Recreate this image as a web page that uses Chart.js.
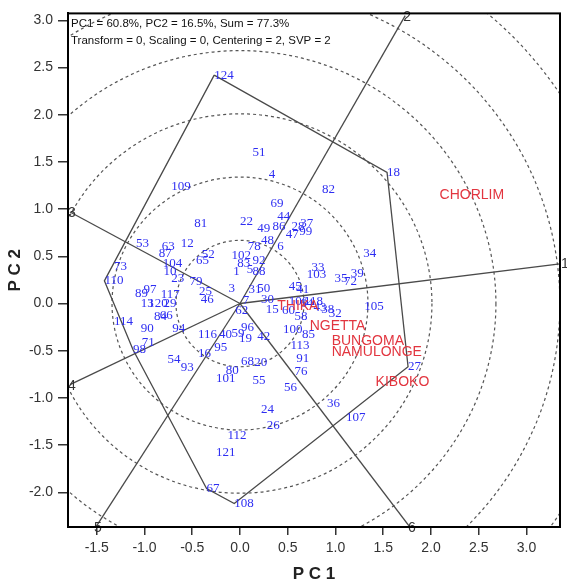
<!DOCTYPE html>
<html>
<head>
<meta charset="utf-8">
<script src="https://cdn.jsdelivr.net/npm/chart.js@4.4.1/dist/chart.umd.min.js"></script>
<style>
  html, body { margin: 0; padding: 0; background: #fff; }
  canvas { display: block; }
</style>
</head>
<body>
<canvas id="biplot" width="567" height="586"></canvas>
<script>
// Genotype scores on the first two principal components
const genotypeIds = [124, 51, 109, 4, 82, 18, 69, 81, 22, 44, 49, 86, 28, 37, 47, 99, 48, 6, 78, 102,
  92, 83, 5, 88, 1, 31, 50, 30, 15, 3, 7, 62, 34, 33, 103, 35, 72, 39, 45, 41,
  106, 64, 118, 43, 38, 32, 60, 58, 105, 100, 85, 113, 42, 96, 19, 59, 53, 63, 12, 65,
  52, 87, 104, 10, 23, 79, 25, 46, 73, 110, 89, 97, 13, 120, 29, 117, 84, 66, 114, 90,
  94, 71, 98, 116, 40, 16, 95, 54, 93, 101, 80, 68, 20, 55, 91, 76, 56, 36, 107, 24,
  26, 112, 121, 67, 108, 27];
const genotypePC1 = [-0.27, 0.13, -0.72, 0.30, 0.86, 1.54, 0.32, -0.48, 0.00, 0.39, 0.18, 0.34, 0.54, 0.63, 0.48, 0.62, 0.22, 0.39, 0.08, -0.09,
  0.13, -0.03, 0.07, 0.13, -0.07, 0.09, 0.18, 0.22, 0.27, -0.12, 0.03, -0.05, 1.29, 0.75, 0.70, 0.99, 1.09, 1.16, 0.51, 0.59,
  0.51, 0.63, 0.67, 0.77, 0.85, 0.93, 0.44, 0.57, 1.30, 0.45, 0.65, 0.53, 0.18, 0.01, -0.01, -0.09, -1.09, -0.82, -0.62, -0.46,
  -0.40, -0.85, -0.81, -0.80, -0.72, -0.53, -0.43, -0.41, -1.32, -1.42, -1.10, -1.01, -1.04, -0.96, -0.80, -0.83, -0.90, -0.84, -1.32, -1.04,
  -0.71, -1.03, -1.12, -0.44, -0.22, -0.44, -0.27, -0.76, -0.62, -0.25, -0.15, 0.01, 0.15, 0.13, 0.59, 0.57, 0.46, 0.91, 1.11, 0.22,
  0.28, -0.13, -0.25, -0.35, -0.06, 1.76];
const genotypePC2 = [2.42, 1.60, 1.24, 1.37, 1.21, 1.39, 1.06, 0.85, 0.87, 0.92, 0.79, 0.81, 0.81, 0.85, 0.73, 0.76, 0.67, 0.60, 0.60, 0.51,
  0.45, 0.42, 0.36, 0.34, 0.34, 0.15, 0.16, 0.04, -0.06, 0.16, 0.03, -0.07, 0.53, 0.38, 0.31, 0.26, 0.23, 0.32, 0.18, 0.15,
  0.02, 0.00, 0.02, -0.04, -0.06, -0.11, -0.08, -0.14, -0.03, -0.28, -0.33, -0.45, -0.35, -0.26, -0.37, -0.32, 0.63, 0.60, 0.63, 0.46,
  0.52, 0.53, 0.42, 0.34, 0.26, 0.23, 0.13, 0.04, 0.39, 0.24, 0.11, 0.15, 0.00, 0.00, 0.00, 0.09, -0.14, -0.13, -0.19, -0.27,
  -0.27, -0.41, -0.49, -0.33, -0.33, -0.53, -0.47, -0.59, -0.68, -0.80, -0.71, -0.61, -0.63, -0.82, -0.58, -0.72, -0.89, -1.06, -1.21, -1.12,
  -1.29, -1.40, -1.58, -1.96, -2.12, -0.67];

// Environment scores
const envNames = ['CHORLIM', 'THIKA', 'NGETTA', 'BUNGOMA', 'NAMULONGE', 'KIBOKO'];
const envPC1 = [2.09, 0.39, 0.73, 0.96, 0.96, 1.42];
const envPC2 = [1.15, -0.03, -0.24, -0.40, -0.52, -0.83];

// Vertex genotypes of the polygon, in drawing order
const hullIds = [124, 18, 27, 108, 67, 98, 110];

// Sector rays from the origin, perpendicular to the polygon sides
const rayLabels = ['1', '2', '3', '4', '5', '6'];
const rayPC1 = [3.35, 1.73, -1.78, -1.78, -1.51, 1.78];
const rayPC2 = [0.42, 3.05, 0.97, -0.86, -2.37, -2.37];

// Concentric reference circles around the origin
const circleRadii = [0.67, 1.34, 2.01, 2.68, 3.35, 4.02];

// Axis ticks
const xTicks = [-1.5, -1.0, -0.5, 0.0, 0.5, 1.0, 1.5, 2.0, 2.5, 3.0];
const yTicks = [-2.0, -1.5, -1.0, -0.5, 0.0, 0.5, 1.0, 1.5, 2.0, 2.5, 3.0];

const headerLines = [
  'PC1 = 60.8%, PC2 = 16.5%, Sum = 77.3%',
  'Transform = 0, Scaling = 0, Centering = 2, SVP = 2'
];

const genoPoints = genotypeIds.map((id, i) => ({ x: genotypePC1[i], y: genotypePC2[i], label: String(id) }));
const envPoints = envNames.map((n, i) => ({ x: envPC1[i], y: envPC2[i], label: n }));
const hullPoints = hullIds.concat([hullIds[0]]).map(id => {
  const i = genotypeIds.indexOf(id);
  return { x: genotypePC1[i], y: genotypePC2[i] };
});

const lineColor = '#4a4a4a';

const rayDatasets = rayLabels.map((lab, i) => ({
  label: 'ray ' + lab,
  data: [{ x: 0, y: 0 }, { x: rayPC1[i], y: rayPC2[i] }],
  showLine: true,
  borderColor: lineColor,
  borderWidth: 1.3,
  pointRadius: 0,
  fill: false
}));

const circlesPlugin = {
  id: 'circles',
  beforeDatasetsDraw(chart) {
    const { ctx, chartArea, scales: { x, y } } = chart;
    const cx = x.getPixelForValue(0), cy = y.getPixelForValue(0);
    ctx.save();
    ctx.beginPath();
    ctx.rect(chartArea.left, chartArea.top, chartArea.right - chartArea.left, chartArea.bottom - chartArea.top);
    ctx.clip();
    ctx.strokeStyle = '#555';
    ctx.lineWidth = 1.2;
    ctx.setLineDash([3, 3]);
    circleRadii.forEach(r => {
      const rx = x.getPixelForValue(r) - cx;
      const ry = cy - y.getPixelForValue(r);
      ctx.beginPath();
      ctx.ellipse(cx, cy, rx, ry, 0, 0, Math.PI * 2);
      ctx.stroke();
    });
    ctx.restore();
  }
};

const labelsPlugin = {
  id: 'labels',
  afterDatasetsDraw(chart) {
    const { ctx, chartArea, scales: { x, y } } = chart;
    ctx.save();
    ctx.textBaseline = 'middle';
    ctx.textAlign = 'left';
    // genotype labels
    ctx.font = '13px "Liberation Serif", "Times New Roman", serif';
    ctx.fillStyle = '#2e2ef2';
    genoPoints.forEach(p => {
      ctx.fillText(p.label, x.getPixelForValue(p.x), y.getPixelForValue(p.y));
    });
    // environment labels
    ctx.font = '14px "Liberation Sans", Arial, sans-serif';
    ctx.fillStyle = '#e2353f';
    envPoints.forEach(p => {
      ctx.fillText(p.label, x.getPixelForValue(p.x), y.getPixelForValue(p.y));
    });
    // ray end labels
    ctx.font = '14px "Liberation Sans", Arial, sans-serif';
    ctx.fillStyle = '#333';
    rayLabels.forEach((lab, i) => {
      const px = x.getPixelForValue(rayPC1[i]);
      const py = y.getPixelForValue(rayPC2[i]);
      if (px >= chartArea.right - 1) {
        ctx.textAlign = 'left';
        ctx.fillText(lab, px + 1, py);
      } else {
        ctx.textAlign = 'center';
        ctx.fillText(lab, px + 2, py + 1);
      }
    });
    // header
    ctx.textAlign = 'left';
    ctx.fillStyle = '#111';
    ctx.font = '11.5px "Liberation Sans", Arial, sans-serif';
    headerLines.forEach((t, i) => {
      ctx.fillText(t, chartArea.left + 3, chartArea.top + 10 + i * 17);
    });
    ctx.restore();
  },
  afterDraw(chart) {
    const { ctx, chartArea } = chart;
    ctx.save();
    ctx.strokeStyle = '#000';
    ctx.lineWidth = 2;
    ctx.setLineDash([]);
    ctx.strokeRect(chartArea.left, chartArea.top, chartArea.right - chartArea.left, chartArea.bottom - chartArea.top);
    ctx.restore();
  }
};

const tickFont = { family: '"Liberation Sans", Arial, sans-serif', size: 14 };
const titleFont = { family: '"Liberation Sans", Arial, sans-serif', size: 17, weight: 'bold' };

new Chart(document.getElementById('biplot'), {
  type: 'scatter',
  data: {
    datasets: [
      {
        label: 'polygon',
        data: hullPoints,
        showLine: true,
        borderColor: lineColor,
        borderWidth: 1.3,
        pointRadius: 0,
        fill: false
      },
      ...rayDatasets
    ]
  },
  options: {
    responsive: false,
    animation: false,
    devicePixelRatio: 1,
    layout: { padding: { top: 10, right: 7, left: 0, bottom: 0 } },
    plugins: { legend: { display: false }, tooltip: { enabled: false } },
    scales: {
      x: {
        type: 'linear',
        min: -1.801,
        max: 3.351,
        afterBuildTicks: s => { s.ticks = xTicks.map(v => ({ value: v })); },
        afterFit: s => { s.height = 59; },
        ticks: { font: tickFont, color: '#333', padding: 5, callback: v => v.toFixed(1), maxRotation: 0 },
        grid: { display: true, drawOnChartArea: false, drawTicks: true, tickLength: 8, color: '#333', lineWidth: 1.5 },
        border: { display: true, color: '#000', width: 2 },
        title: { display: true, text: 'P C 1', font: titleFont, color: '#222', padding: { top: 0, bottom: 1 } }
      },
      y: {
        type: 'linear',
        min: -2.368,
        max: 3.074,
        afterBuildTicks: s => { s.ticks = yTicks.map(v => ({ value: v })); },
        afterFit: s => { s.width = 68; },
        ticks: { font: tickFont, color: '#333', padding: 5, callback: v => v.toFixed(1) },
        grid: { display: true, drawOnChartArea: false, drawTicks: true, tickLength: 10, color: '#333', lineWidth: 1.5 },
        border: { display: true, color: '#000', width: 2 },
        title: { display: true, text: 'P C 2', font: titleFont, color: '#222', padding: { top: 5, bottom: 0 } }
      }
    }
  },
  plugins: [circlesPlugin, labelsPlugin]
});
</script>
</body>
</html>
